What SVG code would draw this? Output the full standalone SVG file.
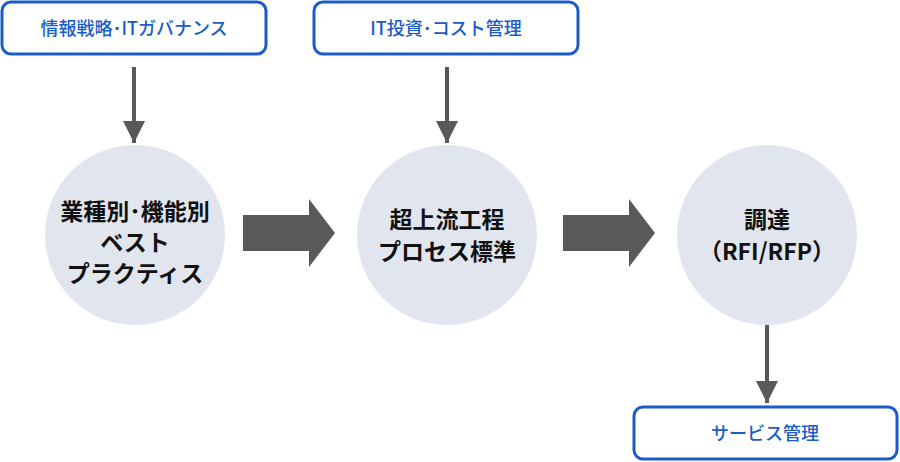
<svg xmlns="http://www.w3.org/2000/svg" width="900" height="462" viewBox="0 0 900 462">
<style>
.box{fill:#fff;stroke:#1a5cc8;stroke-width:3}
.bt{font-family:"Noto Sans CJK JP","Noto Sans",sans-serif;font-size:18px;fill:#1a5cc8;text-anchor:middle;font-weight:500}
.c{fill:#e1e6ee}
.ct{font-family:"Noto Sans CJK JP","Noto Sans",sans-serif;font-size:23px;font-weight:bold;fill:#111;text-anchor:middle}
.ln{stroke:#595959;stroke-width:4}
.ar{fill:#595959}
</style>
<defs><marker id="h" markerUnits="userSpaceOnUse" markerWidth="24" markerHeight="22" refX="22" refY="11" orient="auto"><path d="M0,0 L22,11 L0,22Z" fill="#595959"/></marker></defs>
<g id="connectors">
<line class="ln" x1="134" y1="67" x2="134" y2="143" marker-end="url(#h)"/>
<line class="ln" x1="447" y1="67" x2="447" y2="143" marker-end="url(#h)"/>
<line class="ln" x1="767" y1="325" x2="767" y2="403" marker-end="url(#h)"/>
<path class="ar" d="M243,215 H309 V199 L335,233 L309,267 V251 H243Z"/>
<path class="ar" d="M563,215 H629 V199 L655,233 L629,267 V251 H563Z"/>
</g>
<g id="n1"><rect class="box" x="2" y="2" width="264" height="52" rx="9"/><text class="bt" x="134" y="35">情報戦略･ITガバナンス</text></g>
<g id="n2"><rect class="box" x="314" y="2" width="264" height="52" rx="9"/><text class="bt" x="446" y="35">IT投資･コスト管理</text></g>
<g id="n3"><circle class="c" cx="135" cy="235" r="90"/><text class="ct" x="135" y="220">業種別･機能別</text><text class="ct" x="135" y="251">ベスト</text><text class="ct" x="135" y="282">プラクティス</text></g>
<g id="n4"><circle class="c" cx="447" cy="235" r="90"/><text class="ct" x="447" y="228">超上流工程</text><text class="ct" x="447" y="260">プロセス標準</text></g>
<g id="n5"><circle class="c" cx="767" cy="235" r="90"/><text class="ct" x="767" y="228">調達</text><text class="ct" x="767" y="260">（RFI/RFP）</text></g>
<g id="n6"><rect class="box" x="634" y="407" width="263" height="52" rx="9"/><text class="bt" x="765" y="440">サービス管理</text></g>
</svg>
